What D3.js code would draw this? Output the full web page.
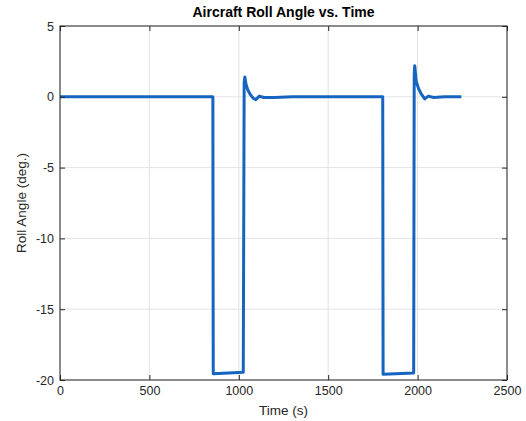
<!DOCTYPE html>
<html lang="en">
<head>
<meta charset="UTF-8">
<title>Aircraft Roll Angle vs. Time</title>
<script src="https://d3js.org/d3.v7.min.js"></script>
<style>
    body { margin: 0; background: #fff; font-family: "Liberation Sans", Arial, sans-serif; }
    .grid line { stroke: #e3e3e3; stroke-width: 1; }
    .axis text { font-size: 12.5px; fill: #262626; }
    .axis path, .axis line { stroke: #262626; }
</style>
</head>
<body>
<div id="chart"></div>
<script>
    // time (s) and roll angle (deg.)
    const timeS = [0, 855, 857, 1025, 1030, 1034, 1040, 1050, 1065, 1080, 1095, 1115, 1140, 1200, 1300,
                   1805, 1807, 1978, 1981, 1984, 1992, 2005, 2020, 2040, 2060, 2090, 2150, 2245];
    const rollDeg = [0, 0, -19.55, -19.45, 1.0, 1.4, 0.9, 0.5, 0.15, -0.1, -0.2, 0.05, -0.05, -0.05, 0,
                     0, -19.6, -19.5, 1.5, 2.2, 1.1, 0.6, 0.2, -0.15, 0.05, -0.05, 0, 0];
    const xTicks = [0, 500, 1000, 1500, 2000, 2500];
    const yTicks = [-20, -15, -10, -5, 0, 5];

    const width = 526, height = 421;
    const margin = {top: 26, right: 19, bottom: 41, left: 60};
    const w = width - margin.left - margin.right;
    const h = height - margin.top - margin.bottom;

    const svg = d3.select("#chart").append("svg")
        .attr("width", width).attr("height", height);
    const g = svg.append("g").attr("transform", `translate(${margin.left},${margin.top})`);

    const x = d3.scaleLinear().domain([0, 2500]).range([0, w]);
    const y = d3.scaleLinear().domain([-20, 5]).range([h, 0]);
    const plain = d => String(d);

    // grid
    g.append("g").attr("class", "grid").selectAll("line").data(xTicks).join("line")
        .attr("x1", d => x(d)).attr("x2", d => x(d)).attr("y1", 0).attr("y2", h);
    g.append("g").attr("class", "grid").selectAll("line").data(yTicks).join("line")
        .attr("y1", d => y(d)).attr("y2", d => y(d)).attr("x1", 0).attr("x2", w);

    // data line
    const data = timeS.map((t, i) => [t, rollDeg[i]]);
    g.append("path").datum(data)
        .attr("fill", "none")
        .attr("stroke", "#1565c0")
        .attr("stroke-width", 3)
        .attr("stroke-linejoin", "round")
        .attr("d", d3.line().x(d => x(d[0])).y(d => y(d[1])));

    // axes, MATLAB-style ticks pointing inward on all sides
    g.append("g").attr("class", "axis").attr("transform", `translate(0,${h})`)
        .call(d3.axisBottom(x).tickValues(xTicks).tickSize(-5).tickPadding(6).tickFormat(plain))
        .call(a => a.select(".domain").remove());
    g.append("g").attr("class", "axis")
        .call(d3.axisLeft(y).tickValues(yTicks).tickSize(-5).tickPadding(6).tickFormat(plain))
        .call(a => a.select(".domain").remove());
    g.append("g").attr("class", "axis")
        .call(d3.axisTop(x).tickValues(xTicks).tickSize(-5).tickFormat(""))
        .call(a => a.select(".domain").remove());
    g.append("g").attr("class", "axis").attr("transform", `translate(${w},0)`)
        .call(d3.axisRight(y).tickValues(yTicks).tickSize(-5).tickFormat(""))
        .call(a => a.select(".domain").remove());

    g.append("rect").attr("width", w).attr("height", h)
        .attr("fill", "none").attr("stroke", "#262626").attr("stroke-width", 1);

    // labels
    svg.append("text").attr("x", margin.left + w / 2).attr("y", 17)
        .attr("text-anchor", "middle").attr("font-size", 14).attr("font-weight", "bold")
        .attr("fill", "#000").text("Aircraft Roll Angle vs. Time");
    svg.append("text").attr("x", margin.left + w / 2).attr("y", 415)
        .attr("text-anchor", "middle").attr("font-size", 13.5).attr("fill", "#262626")
        .text("Time (s)");
    svg.append("text")
        .attr("transform", `translate(26,${margin.top + h / 2}) rotate(-90)`)
        .attr("text-anchor", "middle").attr("font-size", 13.5).attr("fill", "#262626")
        .text("Roll Angle (deg.)");
</script>
</body>
</html>
